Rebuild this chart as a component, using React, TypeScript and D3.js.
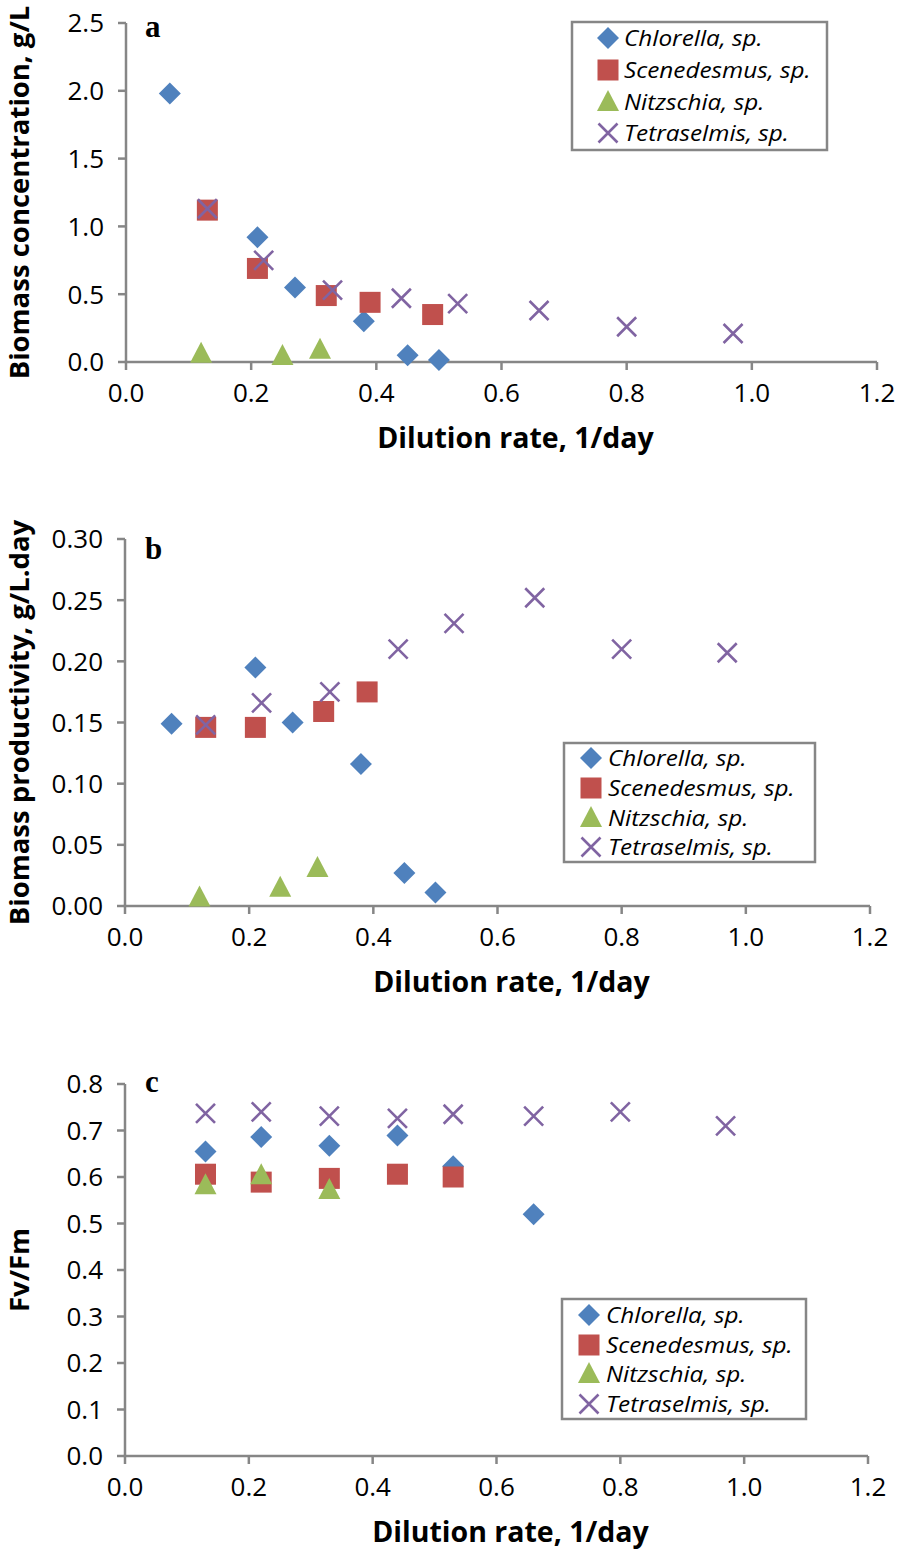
import React from "react";
import * as d3 from "d3";

// ---- Data ----
const seriesNames = ["Chlorella, sp.", "Scenedesmus, sp.", "Nitzschia, sp.", "Tetraselmis, sp."];
const seriesColors = ["#4F81BD", "#C0504D", "#9BBB59", "#8064A2"];
const seriesShapes = ["diamond", "square", "triangle", "cross"];

// Panel a: biomass concentration (g/L)
const aChlorellaX = [0.07, 0.21, 0.27, 0.38, 0.45, 0.5];
const aChlorellaY = [1.98, 0.92, 0.55, 0.3, 0.05, 0.015];
const aScenedesmusX = [0.13, 0.21, 0.32, 0.39, 0.49];
const aScenedesmusY = [1.12, 0.69, 0.49, 0.44, 0.35];
const aNitzschiaX = [0.12, 0.25, 0.31];
const aNitzschiaY = [0.06, 0.045, 0.09];
const aTetraselmisX = [0.13, 0.22, 0.33, 0.44, 0.53, 0.66, 0.8, 0.97];
const aTetraselmisY = [1.13, 0.75, 0.53, 0.47, 0.43, 0.38, 0.26, 0.21];

// Panel b: biomass productivity (g/L.day)
const bChlorellaX = [0.075, 0.21, 0.27, 0.38, 0.45, 0.5];
const bChlorellaY = [0.149, 0.195, 0.15, 0.116, 0.027, 0.011];
const bScenedesmusX = [0.13, 0.21, 0.32, 0.39];
const bScenedesmusY = [0.146, 0.146, 0.159, 0.175];
const bNitzschiaX = [0.12, 0.25, 0.31];
const bNitzschiaY = [0.007, 0.015, 0.031];
const bTetraselmisX = [0.13, 0.22, 0.33, 0.44, 0.53, 0.66, 0.8, 0.97];
const bTetraselmisY = [0.148, 0.166, 0.175, 0.21, 0.231, 0.252, 0.21, 0.207];

// Panel c: Fv/Fm
const cChlorellaX = [0.13, 0.22, 0.33, 0.44, 0.53, 0.66];
const cChlorellaY = [0.655, 0.686, 0.667, 0.689, 0.623, 0.52];
const cScenedesmusX = [0.13, 0.22, 0.33, 0.44, 0.53];
const cScenedesmusY = [0.606, 0.589, 0.597, 0.606, 0.6];
const cNitzschiaX = [0.13, 0.22, 0.33];
const cNitzschiaY = [0.582, 0.604, 0.572];
const cTetraselmisX = [0.13, 0.22, 0.33, 0.44, 0.53, 0.66, 0.8, 0.97];
const cTetraselmisY = [0.737, 0.74, 0.731, 0.726, 0.735, 0.731, 0.74, 0.71];

const xTicks = [0, 0.2, 0.4, 0.6, 0.8, 1.0, 1.2];
const aYTicks = [0, 0.5, 1.0, 1.5, 2.0, 2.5];
const bYTicks = [0, 0.05, 0.1, 0.15, 0.2, 0.25, 0.3];
const cYTicks = [0, 0.1, 0.2, 0.3, 0.4, 0.5, 0.6, 0.7, 0.8];

const xTitle = "Dilution rate, 1/day";

const AXIS = "#868686";
const FONT = "'Open Sans', sans-serif";

function Marker({ shape, color, x, y }: { shape: string; color: string; x: number; y: number }) {
  const s = 11;
  if (shape === "diamond") {
    return <path d={`M${x},${y - s}L${x + s},${y}L${x},${y + s}L${x - s},${y}Z`} fill={color} />;
  }
  if (shape === "square") {
    return <rect x={x - 10.5} y={y - 10.5} width={21} height={21} fill={color} />;
  }
  if (shape === "triangle") {
    return <path d={`M${x},${y - 12}L${x + 11},${y + 9}L${x - 11},${y + 9}Z`} fill={color} />;
  }
  const c = 9.5;
  return (
    <path
      d={`M${x - c},${y - c}L${x + c},${y + c}M${x - c},${y + c}L${x + c},${y - c}`}
      stroke={color}
      strokeWidth={2.6}
      fill="none"
    />
  );
}

type PanelProps = {
  x0: number; x1: number; yTop: number; yBot: number;
  yMax: number; yTicks: number[]; yFmt: string;
  yTitle: string; letter: string; letterY: number;
  xs: number[][]; ys: number[][];
  legend: { x: number; y: number; w: number; h: number; rows: number[]; mx: number; tx: number };
  xTitleY: number;
};

function Panel(p: PanelProps) {
  const xs = d3.scaleLinear().domain([0, 1.2]).range([p.x0, p.x1]);
  const ys = d3.scaleLinear().domain([0, p.yMax]).range([p.yBot, p.yTop]);
  const fmt = d3.format(p.yFmt);
  const xf = d3.format(".1f");
  const cy = (p.yTop + p.yBot) / 2;
  return (
    <g>
      {/* axes */}
      <line x1={p.x0} x2={p.x0} y1={p.yTop} y2={p.yBot} stroke={AXIS} strokeWidth={2.5} />
      <line x1={p.x0 - 1.25} x2={p.x1} y1={p.yBot} y2={p.yBot} stroke={AXIS} strokeWidth={2.5} />
      {p.yTicks.map((t) => (
        <g key={"y" + t}>
          <line x1={p.x0 - 8} x2={p.x0} y1={ys(t)} y2={ys(t)} stroke={AXIS} strokeWidth={2.5} />
          <text x={p.x0 - 22} y={ys(t)} dy="0.36em" textAnchor="end" fontFamily={FONT} fontSize={26} fill="#000">
            {fmt(t)}
          </text>
        </g>
      ))}
      {xTicks.map((t) => (
        <g key={"x" + t}>
          <line x1={xs(t)} x2={xs(t)} y1={p.yBot} y2={p.yBot + 8} stroke={AXIS} strokeWidth={2.5} />
          <text x={xs(t)} y={p.yBot + 31} dy="0.36em" textAnchor="middle" fontFamily={FONT} fontSize={26} fill="#000">
            {xf(t)}
          </text>
        </g>
      ))}
      <text x={(p.x0 + p.x1) / 2 + 14} y={p.xTitleY} textAnchor="middle" fontFamily={FONT} fontWeight="bold" fontSize={28.5} fill="#000">
        {xTitle}
      </text>
      <text
        transform={`translate(29,${cy}) rotate(-90)`}
        textAnchor="middle"
        fontFamily={FONT}
        fontWeight="bold"
        fontSize={27.5}
        fill="#000"
      >
        {p.yTitle}
      </text>
      <text x={145} y={p.letterY} fontFamily="'Liberation Serif', 'Times New Roman', serif" fontWeight="bold" fontSize={31} fill="#000">
        {p.letter}
      </text>
      {/* series */}
      {p.xs.map((xarr, si) =>
        xarr.map((xv, i) => (
          <Marker key={si + "-" + i} shape={seriesShapes[si]} color={seriesColors[si]} x={xs(xv)} y={ys(p.ys[si][i])} />
        ))
      )}
      {/* legend */}
      <rect x={p.legend.x} y={p.legend.y} width={p.legend.w} height={p.legend.h} fill="#fff" stroke={AXIS} strokeWidth={2.5} />
      {seriesNames.map((n, i) => (
        <g key={n}>
          <Marker shape={seriesShapes[i]} color={seriesColors[i]} x={p.legend.mx} y={p.legend.rows[i]} />
          <text
            transform={`translate(${p.legend.tx},${p.legend.rows[i]}) scale(1.08,1)`}
            dy="0.36em"
            fontFamily={FONT}
            fontStyle="italic"
            fontSize={22.5}
            fill="#000"
          >
            {n}
          </text>
        </g>
      ))}
    </g>
  );
}

export default function App() {
  return (
    <svg width={898} height={1553} style={{ position: "absolute", left: 0, top: 0, background: "#fff" }}>
      <rect width={898} height={1553} fill="#fff" />
      <Panel
        x0={126} x1={877} yTop={23} yBot={362} yMax={2.5} yTicks={aYTicks} yFmt=".1f"
        yTitle="Biomass concentration, g/L" letter="a" letterY={37}
        xs={[aChlorellaX, aScenedesmusX, aNitzschiaX, aTetraselmisX]}
        ys={[aChlorellaY, aScenedesmusY, aNitzschiaY, aTetraselmisY]}
        legend={{ x: 572, y: 22, w: 255, h: 128, rows: [38, 70, 102, 133], mx: 608, tx: 624 }}
        xTitleY={448}
      />
      <Panel
        x0={125} x1={870} yTop={539} yBot={906} yMax={0.3} yTicks={bYTicks} yFmt=".2f"
        yTitle="Biomass productivity, g/L.day" letter="b" letterY={559}
        xs={[bChlorellaX, bScenedesmusX, bNitzschiaX, bTetraselmisX]}
        ys={[bChlorellaY, bScenedesmusY, bNitzschiaY, bTetraselmisY]}
        legend={{ x: 564, y: 743, w: 251, h: 119, rows: [758, 788, 818, 847], mx: 591, tx: 608 }}
        xTitleY={992}
      />
      <Panel
        x0={125} x1={868} yTop={1084} yBot={1456} yMax={0.8} yTicks={cYTicks} yFmt=".1f"
        yTitle="Fv/Fm" letter="c" letterY={1092}
        xs={[cChlorellaX, cScenedesmusX, cNitzschiaX, cTetraselmisX]}
        ys={[cChlorellaY, cScenedesmusY, cNitzschiaY, cTetraselmisY]}
        legend={{ x: 562, y: 1299, w: 244, h: 120, rows: [1315, 1345, 1374, 1404], mx: 589, tx: 606 }}
        xTitleY={1542}
      />
    </svg>
  );
}
